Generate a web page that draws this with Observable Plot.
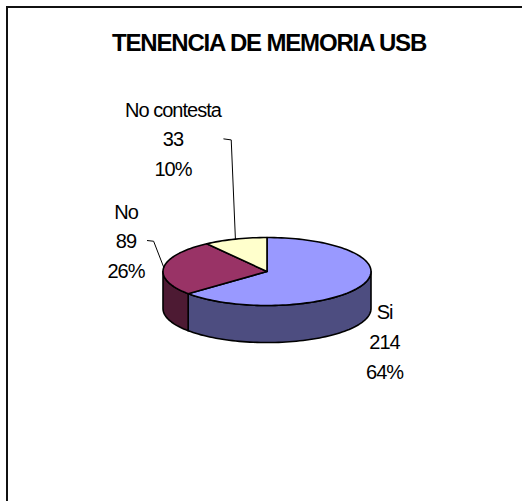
<!DOCTYPE html>
<html>
<head>
<meta charset="utf-8">
<script src="https://cdn.jsdelivr.net/npm/d3@7"></script>
<script src="https://cdn.jsdelivr.net/npm/@observablehq/plot@0.6"></script>
<style>
  html, body { margin: 0; padding: 0; background: #fff; overflow: hidden; }
  #frame { position: absolute; left: 6px; top: 6px; width: 516px; height: 495px;
           border-left: 2px solid #111; border-top: 2px solid #111; box-sizing: border-box; }
  #title { height: 62px; box-sizing: border-box; padding-top: 22px; width: 522px; margin-left: -8px;
           text-align: center; font: bold 24px/26px "Liberation Sans", Arial, sans-serif; letter-spacing: -1.16px; color: #000; text-indent: 16px; white-space: nowrap; }
  #chart svg { display: block; }
  #chart text { letter-spacing: -1px; }
</style>
</head>
<body>
<div id="frame">
  <div id="title">TENENCIA DE MEMORIA USB</div>
  <div id="chart"></div>
</div>
<script>
const categories = ["Si", "No", "No contesta"];
const counts = [214, 89, 33];
const percents = ["64%", "26%", "10%"];
const topColors = ["#9999FF", "#993366", "#FFFFCC"];
const sideColors = ["#4D4D80", "#4D1A33", "#808066"];

// Pie geometry in ellipse units (x: -1..1 is the rim width, y: -1..1 the rim height)
const depth = 1.09;
const labelAnchors = [[1.13, 2.0], [-1.356, -0.96], [-0.904, -3.96]];
const leaderElbows = [null, [[-1.09, -0.89], [-1.15, -0.91]], [[-0.344, -3.87], [-0.415, -3.9]]];

const total = d3.sum(counts);
const rim = (deg, drop = 0) => {
  const a = deg * Math.PI / 180;
  return {x: Math.sin(a), y: -Math.cos(a) + drop};
};
const arc = (a0, a1, drop = 0) => {
  const n = Math.max(1, Math.ceil(Math.abs(a1 - a0) / 2));
  return d3.range(n + 1).map(i => rim(a0 + (a1 - a0) * i / n, drop));
};

let acc = 0;
const slices = categories.map((name, i) => {
  const start = acc / total * 360;
  acc += counts[i];
  return {name, i, start, end: acc / total * 360, mid: (start + acc / total * 360) / 2};
});

const topPaths = slices.flatMap(s =>
  [{x: 0, y: 0}, ...arc(s.start, s.end), {x: 0, y: 0}].map(p => ({...p, key: s.name})));

const sidePaths = slices.flatMap(s => {
  const a0 = Math.max(s.start, 90), a1 = Math.min(s.end, 270);
  if (a1 <= a0) return [];
  const top = arc(a0, a1), bottom = arc(a1, a0, depth);
  return [...top, ...bottom, top[0]].map(p => ({...p, key: s.name + " lateral"}));
});

const leaders = slices.flatMap(s => leaderElbows[s.i]
  ? [rim(s.mid), ...leaderElbows[s.i].map(([x, y]) => ({x, y}))].map(p => ({...p, key: s.name}))
  : []);

const labels = slices.map(s => ({
  x: labelAnchors[s.i][0], y: labelAnchors[s.i][1],
  text: `${s.name}\n${counts[s.i]}\n${percents[s.i]}`
}));

const plot = Plot.plot({
  width: 514,
  height: 431,
  margin: 0,
  style: {background: "#fff", overflow: "visible"},
  x: {domain: [-1, 1], range: [154.5, 362.5], axis: null},
  y: {domain: [-1, 1], range: [167, 235], axis: null},
  color: {
    type: "ordinal",
    domain: [...categories, ...categories.map(c => c + " lateral")],
    range: [...topColors, ...sideColors]
  },
  marks: [
    Plot.line(sidePaths, {x: "x", y: "y", z: "key", fill: "key", stroke: "#000", strokeWidth: 1.6, strokeLinejoin: "round"}),
    Plot.line(topPaths, {x: "x", y: "y", z: "key", fill: "key", stroke: "#000", strokeWidth: 1.6, strokeLinejoin: "round"}),
    Plot.line(leaders, {x: "x", y: "y", z: "key", stroke: "#000", strokeWidth: 1}),
    Plot.text(labels, {x: "x", y: "y", text: "text", fontSize: 20, lineHeight: 1.48, fill: "#000",
      fontFamily: "'Liberation Sans', Arial, sans-serif", lineAnchor: "middle"})
  ]
});
document.getElementById("chart").append(plot);
</script>
</body>
</html>
